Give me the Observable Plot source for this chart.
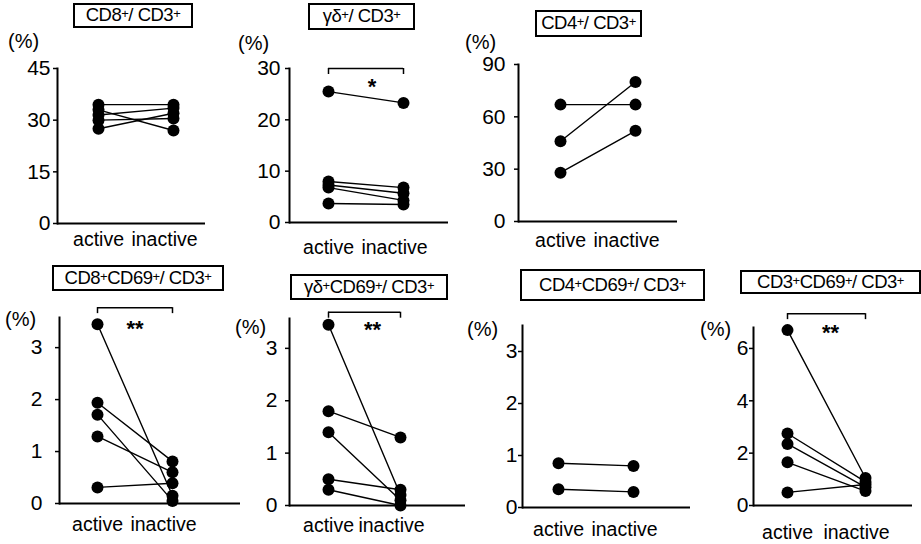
<!DOCTYPE html>
<html><head><meta charset="utf-8">
<script src="https://cdn.jsdelivr.net/npm/d3@7"></script>
<script src="https://cdn.jsdelivr.net/npm/@observablehq/plot@0.6"></script>
<style>
body{margin:0;background:#fff;}
#wrap{position:relative;width:921px;height:544px;overflow:hidden;font-family:"Liberation Sans",Arial,sans-serif;color:#000;}
.panel{position:absolute;}
.ttl{position:absolute;border:2px solid #000;box-sizing:border-box;font-size:18.5px;display:flex;align-items:center;justify-content:center;white-space:nowrap;background:#fff;z-index:2;letter-spacing:-0.5px;line-height:1}
.ttl sup{font-size:13px;vertical-align:top;line-height:1;position:relative;top:-2px}
.pct{position:absolute;font-size:20px;line-height:1;z-index:2}
</style></head><body><div id="wrap"></div>
<script>
// ---- data ----
const groups = ["active", "inactive"];

const titleCD8 = "CD8<sup>+</sup>/ CD3<sup>+</sup>";
const titleGD = "γδ<sup>+</sup>/ CD3<sup>+</sup>";
const titleCD4 = "CD4<sup>+</sup>/ CD3<sup>+</sup>";
const titleCD8CD69 = "CD8<sup>+</sup>CD69<sup>+</sup> / CD3<sup>+</sup>";
const titleGDCD69 = "γδ<sup>+</sup>CD69<sup>+</sup> / CD3<sup>+</sup>";
const titleCD4CD69 = "CD4<sup>+</sup>CD69<sup>+</sup>/ CD3<sup>+</sup>";
const titleCD3CD69 = "CD3<sup>+</sup>CD69<sup>+</sup>/ CD3<sup>+</sup>";

const cd8Active = [34.5, 33, 31.5, 30, 27.5];
const cd8Inactive = [34.5, 27, 33.5, 30.5, 32];
const gdActive = [25.5, 8, 7.3, 6.8, 3.7];
const gdInactive = [23.3, 6.8, 5.7, 4.3, 3.5];
const cd4Active = [67, 46, 28];
const cd4Inactive = [67, 80, 52];
const cd8cd69Active = [3.45, 1.94, 1.71, 1.29, 0.31];
const cd8cd69Inactive = [0.15, 0.81, 0.05, 0.6, 0.39];
const gdcd69Active = [3.45, 1.8, 1.4, 0.5, 0.3];
const gdcd69Inactive = [0.2, 1.3, 0.1, 0.3, 0.0];
const cd4cd69Active = [0.85, 0.35];
const cd4cd69Inactive = [0.8, 0.3];
const cd3cd69Active = [6.7, 2.75, 2.35, 1.65, 0.5];
const cd3cd69Inactive = [1.05, 0.9, 0.7, 0.55, 0.8];

const ticks45 = [0, 15, 30, 45];
const ticks30 = [0, 10, 20, 30];
const ticks90 = [0, 30, 60, 90];
const ticks3 = [0, 1, 2, 3];
const ticks6 = [0, 2, 4, 6];

// ---- layout ----
const panels = [
  {title: titleCD8, act: cd8Active, inact: cd8Inactive, ticks: ticks45, ymax: 45,
   box: [73, 3, 120, 25], pct: [8, 31], left: 0, top: 40, width: 215, height: 220,
   axisX: 57, endX: 205, y0: 223, yTop: 68, xA: 98, xI: 173, gap: 3, xpad: 9},
  {title: titleGD, act: gdActive, inact: gdInactive, ticks: ticks30, ymax: 30,
   box: [308, 3, 107, 27], pct: [238, 33], left: 230, top: 40, width: 225, height: 220,
   axisX: 289, endX: 448, y0: 222, yTop: 68, xA: 328, xI: 403, gap: 5, xpad: 18,
   sig: {at: 30, label: "*", dy: 18, dx: 6}},
  {title: titleCD4, act: cd4Active, inact: cd4Inactive, ticks: ticks90, ymax: 90,
   box: [535, 10, 107, 27], pct: [465, 32], left: 460, top: 40, width: 230, height: 220,
   axisX: 518, endX: 677, y0: 221, yTop: 64, xA: 560, xI: 635, gap: 9, xpad: 12},
  {title: titleCD8CD69, act: cd8cd69Active, inact: cd8cd69Inactive, ticks: ticks3, ymax: 3.58,
   box: [52, 265, 172, 26], pct: [5, 309], left: 0, top: 296, width: 245, height: 248,
   axisX: 59, endX: 240, y0: 503, yTop: 317, xA: 97, xI: 172, gap: 13, xpad: 14,
   sig: {at: 3.77, label: "**", dy: 21, dx: 0}},
  {title: titleGDCD69, act: gdcd69Active, inact: gdcd69Inactive, ticks: ticks3, ymax: 3.57,
   box: [290, 274, 158, 26], pct: [235, 317], left: 235, top: 296, width: 235, height: 248,
   axisX: 289, endX: 465, y0: 505, yTop: 318, xA: 328, xI: 400, gap: 8, xpad: 13,
   sig: {at: 3.69, label: "**", dy: 18, dx: 8}},
  {title: titleCD4CD69, act: cd4cd69Active, inact: cd4cd69Inactive, ticks: ticks3, ymax: 3.5,
   box: [520, 269, 185, 32], pct: [467, 319], left: 465, top: 296, width: 230, height: 248,
   axisX: 522, endX: 690, y0: 507, yTop: 325, xA: 558, xI: 633, gap: 1, xpad: 15},
  {title: titleCD3CD69, act: cd3cd69Active, inact: cd3cd69Inactive, ticks: ticks6, ymax: 6.8,
   box: [740, 270, 181, 24], pct: [700, 319], left: 700, top: 296, width: 221, height: 248,
   axisX: 753, endX: 912, y0: 505, yTop: 327, xA: 787, xI: 865, gap: 1, xpad: 20,
   sig: {at: 7.33, label: "**", dy: 19, dx: 4}}
];

const wrap = document.getElementById("wrap");

for (const p of panels) {
  const pairs = p.act.flatMap((a, i) => [
    {g: 0, v: a, id: i},
    {g: 1, v: p.inact[i], id: i}
  ]);
  const frameH = p.y0 - p.yTop;
  const tickLen = 6 * p.ymax / frameH; // bracket end ticks, ~6px
  const marks = [
    Plot.frame({anchor: "left", strokeWidth: 2}),
    Plot.ruleY([0], {strokeWidth: 2}),
    Plot.axisY(p.ticks, {label: null, tickSize: 4, tickPadding: p.gap, fontSize: 21, strokeWidth: 1.5, tickFormat: d => String(d)}),
    Plot.axisX([0], {label: null, tickSize: 0, tickPadding: p.xpad, fontSize: 19.5, tickFormat: i => groups[i]}),
    Plot.axisX([1], {label: null, tickSize: 0, tickPadding: p.xpad, fontSize: 19.5, dx: -9, tickFormat: i => groups[i]}),
    Plot.line(pairs, {x: "g", y: "v", z: "id", stroke: "#000", strokeWidth: 1.4}),
    Plot.dot(pairs, {x: "g", y: "v", r: 6, fill: "#000", stroke: "none"})
  ];
  if (p.sig) {
    const s = p.sig;
    marks.push(
      Plot.ruleY([s.at], {x1: 0, x2: 1, stroke: "#000", strokeWidth: 1.5}),
      Plot.ruleX([0, 1], {x: d => d, y1: s.at, y2: s.at - tickLen, stroke: "#000", strokeWidth: 1.5}),
      Plot.text([s.label], {x: 0.5, y: s.at, text: d => d, dy: s.dy, dx: s.dx, fontSize: 22, fontWeight: "bold", lineAnchor: "middle"})
    );
  }
  const svg = Plot.plot({
    width: p.width,
    height: p.height,
    marginLeft: p.axisX - p.left,
    marginRight: p.left + p.width - p.endX,
    marginTop: p.yTop - p.top,
    marginBottom: p.top + p.height - p.y0,
    style: {fontFamily: "'Liberation Sans', Arial, sans-serif", background: "transparent", overflow: "visible", color: "#000"},
    x: {type: "linear", domain: [0, 1], range: [p.xA - p.left, p.xI - p.left], axis: null},
    y: {domain: [0, p.ymax], axis: null},
    marks
  });
  const holder = document.createElement("div");
  holder.className = "panel";
  holder.style.left = p.left + "px";
  holder.style.top = p.top + "px";
  holder.appendChild(svg);
  wrap.appendChild(holder);

  const t = document.createElement("div");
  t.className = "ttl";
  t.style.left = p.box[0] + "px";
  t.style.top = p.box[1] + "px";
  t.style.width = p.box[2] + "px";
  t.style.height = p.box[3] + "px";
  t.innerHTML = p.title;
  wrap.appendChild(t);

  const pc = document.createElement("div");
  pc.className = "pct";
  pc.style.left = p.pct[0] + "px";
  pc.style.top = p.pct[1] + "px";
  pc.textContent = "(%)";
  wrap.appendChild(pc);
}
</script>
</body></html>
